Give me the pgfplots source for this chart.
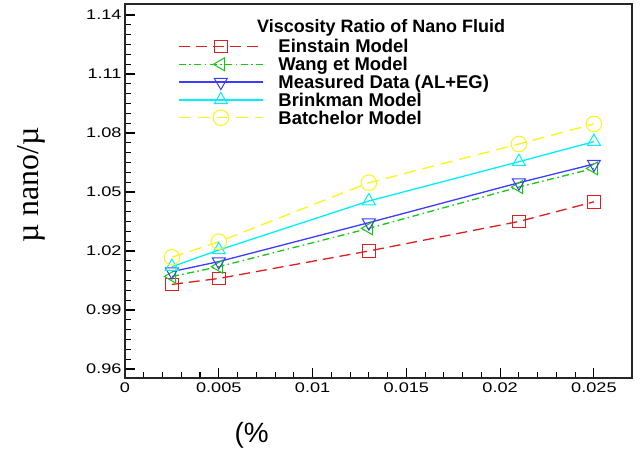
\documentclass[border=0pt]{standalone}
\usepackage{fontspec}
\setmainfont{Liberation Sans}
\newfontfamily\tickfont[FakeStretch=1.3]{Liberation Sans}
\newfontfamily\serifont{Liberation Serif}
\usepackage{pgfplots}
\pgfplotsset{compat=1.18}
\definecolor{cred}{RGB}{220,30,30}
\definecolor{cgreen}{RGB}{20,200,20}
\definecolor{cblue}{RGB}{60,60,250}
\definecolor{ccyan}{RGB}{0,240,250}
\definecolor{cyellow}{RGB}{250,245,20}
\begin{document}
\begin{tikzpicture}
\begin{axis}[
  name=ax,
  scale only axis,
  width=507bp, height=374bp,
  xmin=0, xmax=0.02703,
  ymin=0.9554, ymax=1.1456,
  scaled x ticks=false, scaled y ticks=false,
  axis line style={line width=1.8bp, black!85},
  tick align=inside,
  xtick pos=left, ytick pos=left,
  xtick={0,0.005,0.01,0.015,0.02,0.025},
  xticklabels={0,0.005,0.01,0.015,0.02,0.025},
  ytick={0.96,0.99,1.02,1.05,1.08,1.11,1.14},
  yticklabels={0.96,0.99,1.02,1.05,1.08,1.11,1.14},
  minor x tick num=4,
  minor y tick num=5,
  major tick length=10bp,
  minor tick length=6bp,
  every tick/.style={black, line width=1.1bp},
  /pgf/number format/assume math mode=true,
  ticklabel style={font=\tickfont\fontsize{14}{14}\selectfont},
  xticklabel style={yshift=-1bp},
  xlabel={(\%},
  xlabel style={at={(axis description cs:0.25,-0.118)}, anchor=north, inner sep=0pt, font=\fontsize{28}{28}\selectfont},
  ylabel={\textmu\ nano/\textmu},
  ylabel style={at={(axis description cs:-0.1854,0.516)}, anchor=center, rotate=0, inner sep=0pt, font=\serifont\fontsize{32}{32}\selectfont},
  legend cell align=left,
  legend image code/.code={\draw[mark repeat=2, mark phase=2, #1] plot coordinates {(0bp,0bp)(42bp,0bp)(84bp,0bp)};},
  legend style={at={(axis description cs:0.1045,0.9107)}, anchor=north west, draw=none, fill=none,
    inner sep=0pt, row sep=0pt,
    font=\bfseries\fontsize{18.5}{18.5}\selectfont,
    nodes={inner sep=0pt, text height=15.3bp, text depth=2.5bp},
    /tikz/every odd column/.append style={column sep=15bp}},
]
\addplot[cred, line width=1.3bp, dash pattern=on 11bp off 6bp, mark=square, mark size=6.3bp, mark options={solid, fill=none, line width=1bp}]
  coordinates {(0.0025,1.003)(0.005,1.006)(0.013,1.020)(0.021,1.035)(0.025,1.045)};
\addlegendentry{Einstain Model}
\addplot[cgreen, line width=1.3bp, dash pattern=on 7bp off 3.5bp on 1.5bp off 3.5bp, mark=triangle, mark size=7.5bp, mark options={solid, fill=none, line width=1bp, rotate=90}]
  coordinates {(0.0025,1.007)(0.005,1.012)(0.013,1.0315)(0.021,1.0525)(0.025,1.062)};
\addlegendentry{Wang et Model}
\addplot[cblue, line width=1.3bp, mark=triangle, mark size=7.5bp, mark options={solid, fill=none, line width=1bp, rotate=180}]
  coordinates {(0.0025,1.0095)(0.005,1.0146)(0.013,1.0344)(0.021,1.0547)(0.025,1.0642)};
\addlegendentry{Measured Data (AL+EG)}
\addplot[ccyan, line width=1.3bp, mark=triangle, mark size=7.5bp, mark options={solid, fill=none, line width=1bp}]
  coordinates {(0.0025,1.012)(0.005,1.0205)(0.013,1.0454)(0.021,1.0654)(0.025,1.0756)};
\addlegendentry{Brinkman Model}
\addplot[cyellow, line width=1.3bp, dash pattern=on 12bp off 7bp, mark=o, mark size=7.8bp, mark options={solid, fill=none, line width=1bp}]
  coordinates {(0.0025,1.0168)(0.005,1.0247)(0.013,1.0547)(0.021,1.0744)(0.025,1.0846)};
\addlegendentry{Batchelor Model}
\node[anchor=base west, inner sep=0pt, font=\bfseries\fontsize{18}{18}\selectfont] at (axis description cs:0.2604,0.9225) {Viscosity Ratio of Nano Fluid};
\end{axis}
\pgfresetboundingbox
\path[use as bounding box] (ax.south west) ++(-125bp,-77bp) rectangle ++(644bp,455bp);
\end{tikzpicture}
\end{document}
